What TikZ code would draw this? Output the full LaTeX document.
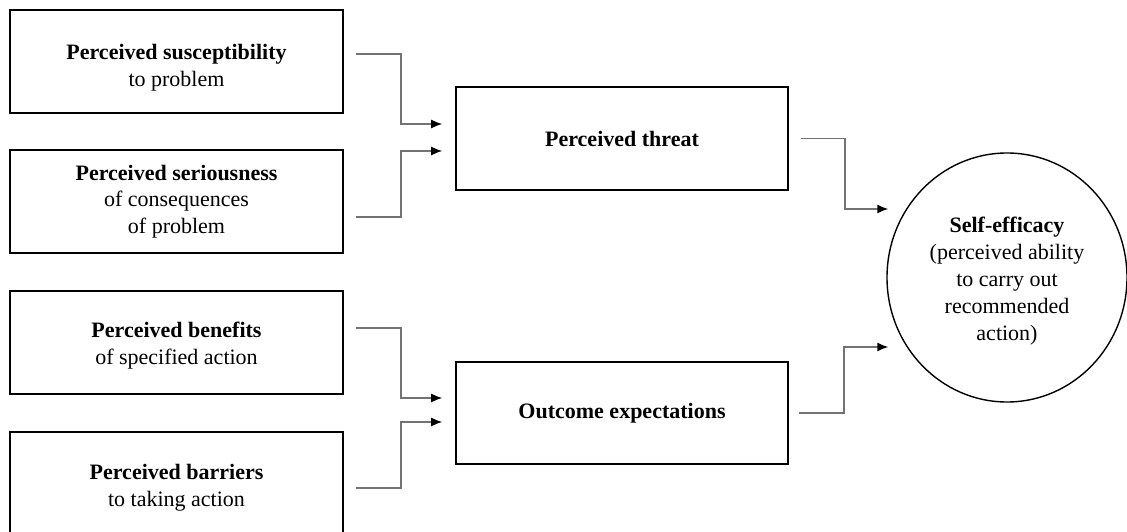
\documentclass[tikz,border=0pt]{standalone}
\usepackage{fontspec}
\setmainfont{Liberation Serif}
\usetikzlibrary{arrows.meta,shapes.geometric}

\tikzset{
  factor/.style={draw, line width=1.6pt, minimum width=333pt, minimum height=103pt,
    inner sep=0pt, align=center, font=\fontsize{22}{26.7}\selectfont},
  middle/.style={factor, minimum width=332pt},
  goal/.style={draw, ellipse, line width=1.4pt, minimum width=240pt, minimum height=249pt,
    inner sep=0pt, align=center, font=\fontsize{22}{27}\selectfont},
  link/.style={draw=black!55, line width=1.4pt, -{Latex[length=11pt,width=9pt,color=black]}}
}

\begin{document}
\begin{tikzpicture}[x=1pt, y=-1pt]
          \useasboundingbox (0,0) rectangle (1127,532);

          \node (susc)    at (176.5,  61.5) [factor] {\rule{0pt}{27pt}\textbf{Perceived susceptibility}\\to problem};
          \node (serious) at (176.5, 201.5) [factor] {\textbf{Perceived seriousness}\\of consequences\\of problem};
          \node (benefit) at (176.5, 342.5) [factor] {\rule{0pt}{22pt}\textbf{Perceived benefits}\\of specified action};
          \node (barrier) at (176.5, 488)   [factor, minimum height=112pt] {\textbf{Perceived barriers}\\to taking action};

          \node (threat)  at (622, 138.5) [middle] {\textbf{Perceived threat}};
          \node (outcome) at (622, 413)   [middle, minimum height=102pt] {\textbf{Outcome expectations}};

          \node (efficacy) at (1007, 277.5) [goal] {\rule{0pt}{23pt}\textbf{Self-efficacy}\\(perceived ability\\to carry out\\recommended\\action)};

          \draw[link] ([xshift=12pt, yshift=7.5pt]susc.east)     -- ++(45,0) |- ([xshift=-13pt, yshift=14.5pt]threat.west);
          \draw[link] ([xshift=12pt, yshift=-15.5pt]serious.east) -- ++(45,0) |- ([xshift=-13pt, yshift=-12.5pt]threat.west);
          \draw[link] ([xshift=12pt, yshift=14.5pt]benefit.east)  -- ++(45,0) |- ([xshift=-13pt, yshift=15pt]outcome.west);
          \draw[link] ([xshift=12pt]barrier.east)                 -- ++(45,0) |- ([xshift=-13pt, yshift=-9pt]outcome.west);

          \draw[link] ([xshift=12pt]threat.east)  -- ++(44,0) |- ([xshift=2pt, yshift=68.5pt]efficacy.west);
          \draw[link] ([xshift=10pt]outcome.east) -- ++(45,0) |- ([xshift=2pt, yshift=-69.5pt]efficacy.west);
        \end{tikzpicture}
\end{document}
